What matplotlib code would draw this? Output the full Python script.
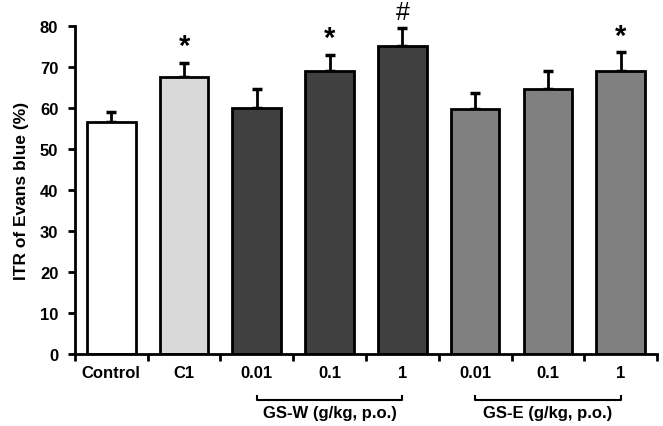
import matplotlib.pyplot as plt
import numpy as np

plt.rcParams['font.family'] = ['Liberation Sans', 'DejaVu Sans']
plt.rcParams['font.weight'] = 'bold'

labels = ['Control', 'C1', '0.01', '0.1', '1', '0.01', '0.1', '1']
values = [56.6, 67.6, 60.0, 69.1, 75.0, 59.8, 64.5, 69.1]
errors = [2.3, 3.4, 4.5, 3.9, 4.4, 3.8, 4.6, 4.5]
colors = ['white', '#d9d9d9', '#404040', '#404040', '#404040',
          '#808080', '#808080', '#808080']
marks = ['', '*', '', '*', '#', '', '', '*']
groups = [('GS-W (g/kg, p.o.)', 2, 4), ('GS-E (g/kg, p.o.)', 5, 7)]

fig = plt.figure(figsize=(6.63, 4.27), dpi=100)
ax = fig.add_axes([0.113, 0.169, 0.878, 0.768])

x = np.arange(len(values))
ax.bar(x, values, width=0.67, color=colors, edgecolor='black', linewidth=2, zorder=2)
ax.errorbar(x, values, yerr=[np.zeros(len(errors)), errors], fmt='none',
            ecolor='black', elinewidth=2, capsize=3.5, capthick=2.5, zorder=1)

for i, m in enumerate(marks):
    if m == '*':
        ax.text(i, values[i] + errors[i] + 0.6, m, ha='center', va='bottom',
                fontsize=21, fontweight='bold')
    elif m == '#':
        ax.text(i, values[i] + errors[i] + 1.0, m, ha='center', va='bottom',
                fontsize=18, fontweight='normal', clip_on=False)

ax.set_xlim(-0.5, 7.5)
ax.set_ylim(0, 80)
ax.set_yticks(range(0, 81, 10))
ax.set_xticks(np.arange(-0.5, 8, 1))
ax.set_xticklabels([])
ax.tick_params(axis='both', direction='out', width=2, length=5, labelsize=12)
ax.tick_params(axis='y', pad=7)
for i, lab in enumerate(labels):
    ax.text(i, -4.6, lab, ha='center', va='center', fontsize=12, fontweight='bold')

for name, a, b in groups:
    ax.plot([a, a, b, b], [-10.3, -11.3, -11.3, -10.3], color='black', lw=1.5,
            clip_on=False)
    ax.text((a + b) / 2, -14.4, name, ha='center', va='center', fontsize=12,
            fontweight='bold')

ax.spines['top'].set_visible(False)
ax.spines['right'].set_visible(False)
ax.spines['left'].set_linewidth(2)
ax.spines['bottom'].set_linewidth(2)
ax.set_ylabel('ITR of Evans blue (%)', fontsize=12.5, fontweight='bold', labelpad=8)

plt.savefig('out.png', dpi=100)
